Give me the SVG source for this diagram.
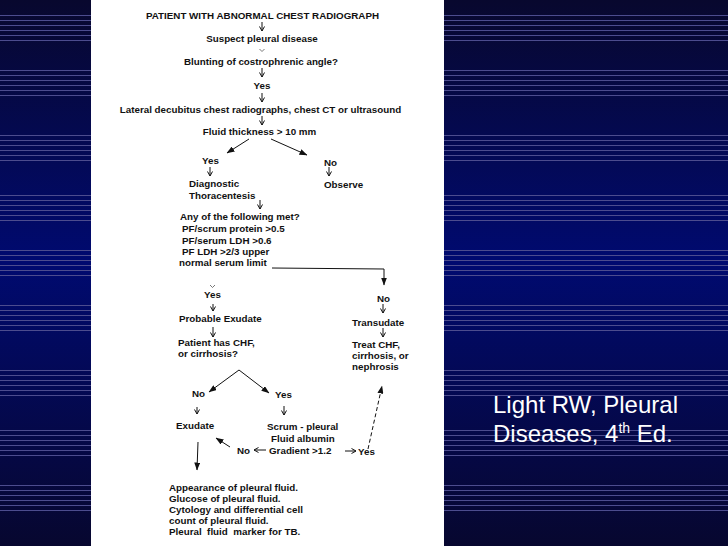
<svg xmlns="http://www.w3.org/2000/svg" width="728" height="546" viewBox="0 0 728 546">
<defs>
  <linearGradient id="bg" x1="0" y1="0" x2="0" y2="1">
    <stop offset="0" stop-color="#08082e"/>
    <stop offset="0.48" stop-color="#000a70"/>
    <stop offset="1" stop-color="#07072f"/>
  </linearGradient>
  <pattern id="stripes" x="0" y="0" width="10" height="5" patternUnits="userSpaceOnUse">
    <rect x="0" y="0" width="10" height="1" fill="#4c4c8e"/>
  </pattern>
  <marker id="tri" markerUnits="userSpaceOnUse" markerWidth="8" markerHeight="6" refX="7.5" refY="3" orient="auto">
    <path d="M0,0 L8,3 L0,6 z" fill="#111"/>
  </marker>
  <marker id="chev" markerUnits="userSpaceOnUse" markerWidth="6" markerHeight="6" refX="5" refY="3" orient="auto">
    <path d="M0.5,0.5 L5,3 L0.5,5.5" fill="none" stroke="#111" stroke-width="1"/>
  </marker>
  <style>
    .t { font-family: "Liberation Sans", Arial, sans-serif; font-size: 9.8px; font-weight: bold; fill: #111; white-space: pre; }
    .c { text-anchor: middle; }
    .ref { font-family: "Liberation Sans", Arial, sans-serif; font-size: 24px; fill: #ffffff; }
    .a { stroke: #111; stroke-width: 1; fill: none; marker-end: url(#chev); }
    .f { stroke: #111; stroke-width: 1; fill: none; marker-end: url(#tri); }
    .d { stroke: #111; stroke-width: 1; fill: none; stroke-dasharray: 4 2.5; marker-end: url(#tri); }
    .tick { stroke: #555; stroke-width: 0.8; fill: none; }
  </style>
</defs>

<!-- slide background -->
<rect x="0" y="0" width="728" height="546" fill="url(#bg)"/>
<g id="stripe-bands">
  <rect x="0" y="14" width="728" height="30" fill="url(#stripes)"/>
  <rect x="0" y="70" width="728" height="30" fill="url(#stripes)"/>
  <rect x="0" y="131" width="728" height="30" fill="url(#stripes)"/>
  <rect x="0" y="193" width="728" height="30" fill="url(#stripes)"/>
  <rect x="0" y="249" width="728" height="30" fill="url(#stripes)"/>
  <rect x="0" y="305" width="728" height="30" fill="url(#stripes)"/>
  <rect x="0" y="367" width="728" height="30" fill="url(#stripes)"/>
  <rect x="0" y="428" width="728" height="30" fill="url(#stripes)"/>
  <rect x="0" y="484" width="728" height="30" fill="url(#stripes)"/>
</g>

<!-- scanned page -->
<rect id="page" x="91" y="0" width="353" height="546" fill="#ffffff"/>

<g id="connectors">
  <line class="a" x1="262" y1="22" x2="262" y2="31"/>
  <path class="tick" d="M259.5,49 L262,51.5 L264.5,49"/>
  <line class="a" x1="262" y1="68" x2="262" y2="77"/>
  <line class="a" x1="262" y1="93" x2="262" y2="102"/>
  <line class="a" x1="262" y1="116" x2="262" y2="125"/>
  <line class="f" x1="249" y1="139" x2="227" y2="153"/>
  <line class="f" x1="271" y1="139" x2="307" y2="155"/>
  <line class="a" x1="210" y1="167" x2="210" y2="176"/>
  <line class="a" x1="329" y1="167" x2="329" y2="176"/>
  <line class="a" x1="260" y1="200" x2="260" y2="209"/>
  <polyline class="f" points="272,268 384,269 384,285"/>
  <path class="tick" d="M210,285 L212.5,287.5 L215,285"/>
  <line class="a" x1="213" y1="304" x2="213" y2="311"/>
  <line class="a" x1="383" y1="304" x2="383" y2="313"/>
  <line class="a" x1="213" y1="327" x2="213" y2="337"/>
  <line class="a" x1="383" y1="328" x2="383" y2="337"/>
  <line class="f" x1="239" y1="370" x2="209" y2="392"/>
  <line class="f" x1="239" y1="370" x2="269" y2="393"/>
  <line class="a" x1="197" y1="407" x2="197" y2="414"/>
  <line class="a" x1="284" y1="406" x2="284" y2="415"/>
  <line class="f" x1="230" y1="447" x2="216" y2="438"/>
  <line class="a" x1="266" y1="450" x2="254" y2="450"/>
  <line class="a" x1="345" y1="451" x2="356" y2="451"/>
  <line class="d" x1="368" y1="449" x2="382" y2="386"/>
  <line class="f" x1="198" y1="442" x2="197" y2="470"/>
</g>

<g id="n-patient"><text class="t c" x="262.5" y="19">PATIENT WITH ABNORMAL CHEST RADIOGRAPH</text></g>
<g id="n-suspect"><text class="t c" x="262" y="42">Suspect pleural disease</text></g>
<g id="n-blunting"><text class="t c" x="261" y="65">Blunting of costrophrenic angle?</text></g>
<g id="n-yes1"><text class="t c" x="262" y="89">Yes</text></g>
<g id="n-lateral"><text class="t c" x="260.5" y="113">Lateral decubitus chest radiographs, chest CT or ultrasound</text></g>
<g id="n-fluid"><text class="t c" x="259.5" y="135">Fluid thickness &gt; 10 mm</text></g>
<g id="n-yes2"><text class="t" x="202" y="164">Yes</text></g>
<g id="n-no1"><text class="t" x="324" y="166">No</text></g>
<g id="n-observe"><text class="t" x="324" y="188">Observe</text></g>
<g id="n-thoracentesis">
  <text class="t" x="189" y="187">Diagnostic</text>
  <text class="t" x="189" y="199">Thoracentesis</text>
</g>
<g id="n-criteria">
  <text class="t" x="180" y="220">Any of the following met?</text>
  <text class="t" x="182" y="232">PF/scrum protein &gt;0.5</text>
  <text class="t" x="182" y="244">PF/serum LDH &gt;0.6</text>
  <text class="t" x="182" y="255">PF LDH &gt;2/3 upper</text>
  <text class="t" x="179" y="266">normal serum limit</text>
</g>
<g id="n-yes3"><text class="t" x="204" y="298">Yes</text></g>
<g id="n-probable"><text class="t" x="179" y="322">Probable Exudate</text></g>
<g id="n-no2"><text class="t" x="377" y="302">No</text></g>
<g id="n-transudate"><text class="t" x="352" y="326">Transudate</text></g>
<g id="n-chf">
  <text class="t" x="178" y="346">Patient has CHF,</text>
  <text class="t" x="178" y="357">or cirrhosis?</text>
</g>
<g id="n-treat">
  <text class="t" x="352" y="348">Treat CHF,</text>
  <text class="t" x="352" y="359">cirrhosis, or</text>
  <text class="t" x="352" y="370">nephrosis</text>
</g>
<g id="n-no3"><text class="t" x="192" y="397">No</text></g>
<g id="n-yes4"><text class="t" x="275" y="398">Yes</text></g>
<g id="n-exudate"><text class="t" x="176" y="429">Exudate</text></g>
<g id="n-gradient">
  <text class="t" x="267" y="430">Scrum - pleural</text>
  <text class="t" x="271" y="442">Fluid albumin</text>
  <text class="t" x="269" y="454">Gradient &gt;1.2</text>
</g>
<g id="n-no4"><text class="t" x="237" y="454">No</text></g>
<g id="n-yes5"><text class="t" x="358" y="455">Yes</text></g>
<g id="n-tests">
  <text class="t" x="169" y="491">Appearance of pleural fluid.</text>
  <text class="t" x="169" y="502">Glucose of pleural fluid.</text>
  <text class="t" x="169" y="513">Cytology and differential cell</text>
  <text class="t" x="169" y="524">count of pleural fluid.</text>
  <text class="t" x="169" y="535" xml:space="preserve">Pleural  fluid  marker for TB.</text>
</g>

<g id="reference">
  <text class="ref" x="493" y="413">Light RW, Pleural</text>
  <text class="ref" x="493" y="442">Diseases, 4<tspan font-size="14" dy="-9">th</tspan><tspan dy="9"> Ed.</tspan></text>
</g>
</svg>
